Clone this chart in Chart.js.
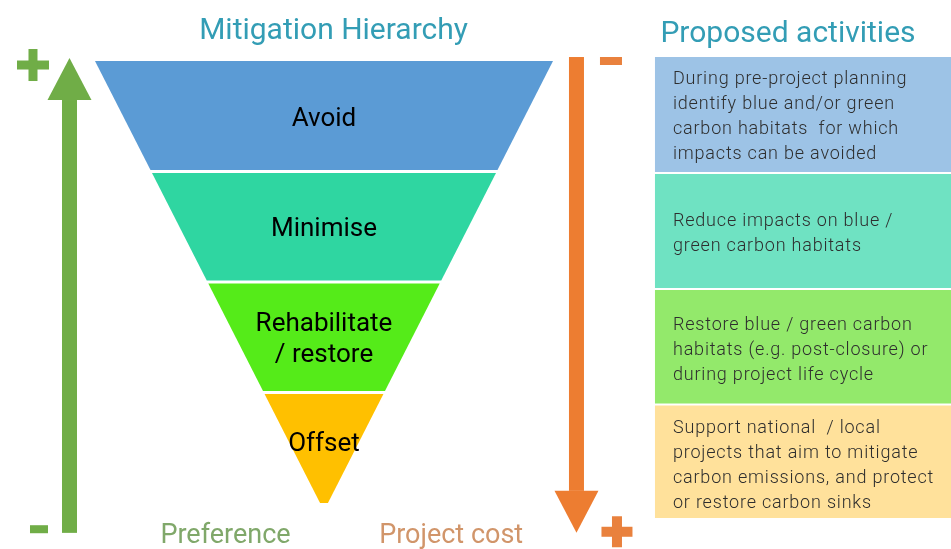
<!DOCTYPE html>
<html>
<head>
<meta charset="utf-8">
<script src="https://cdn.jsdelivr.net/npm/chart.js@4"></script>
<style>
  html, body { margin: 0; padding: 0; background: #fff; }
  #wrap { width: 951px; height: 549px; }
</style>
</head>
<body>
<div id="wrap"><canvas id="chart" width="951" height="549"></canvas></div>
<script>
// Funnel stages (top -> tip)
const stageNames = [['Avoid'], ['Minimise'], ['Rehabilitate', '/ restore'], ['Offset']];
const stageColors = ['#5b9bd5', '#2fd6a1', '#55eb19', '#ffc000'];
const stageLevels = [4, 3, 2, 1, 0];

// Right hand column
const activities = [
  ['During pre-project planning', 'identify blue and/or green', 'carbon habitats  for which', 'impacts can be avoided'],
  ['Reduce impacts on blue /', 'green carbon habitats'],
  ['Restore blue / green carbon', 'habitats (e.g. post-closure) or', 'during project life cycle'],
  ['Support national  / local', 'projects that aim to mitigate', 'carbon emissions, and protect', 'or restore carbon sinks']
];
const activityColors = ['#9dc3e6', '#6fe2c2', '#93e96b', '#ffe19b'];
const activityLevels = [4.036, 2.986, 1.937, 0.891, -0.136];

const titles = ['Mitigation Hierarchy', 'Proposed activities'];
const axisLabels = ['Preference', 'Project cost'];

// funnel geometry (x units)
const tipHalf = 0.07;
const stageGap = 0.027;
const boxGap = 0.018;
const boxLeft = 5.882;
const xMin = -5.758, xMax = 11.143;
const yMin = -0.416, yMax = 4.552;

function halfWidth(v) { return v + tipHalf; }

const datasets = [];
stageNames.forEach((name, i) => {
  const top = stageLevels[i] - (i > 0 ? stageGap / 2 : 0);
  const bot = stageLevels[i + 1] + (i < stageNames.length - 1 ? stageGap / 2 : 0);
  datasets.push({
    label: name.join(' '),
    data: [
      { x: -halfWidth(top), y: top }, { x: halfWidth(top), y: top },
      { x: halfWidth(bot), y: bot }, { x: -halfWidth(bot), y: bot },
      { x: -halfWidth(top), y: top }
    ],
    backgroundColor: stageColors[i],
    borderColor: stageColors[i],
    borderWidth: 0,
    fill: 'shape',
    showLine: true,
    pointRadius: 0,
    tension: 0
  });
});
activities.forEach((lines, i) => {
  const top = activityLevels[i] - (i > 0 ? boxGap / 2 : 0);
  const bot = activityLevels[i + 1] + (i < activities.length - 1 ? boxGap / 2 : 0);
  datasets.push({
    label: 'activity ' + i,
    data: [
      { x: boxLeft, y: top }, { x: xMax, y: top },
      { x: xMax, y: bot }, { x: boxLeft, y: bot },
      { x: boxLeft, y: top }
    ],
    backgroundColor: activityColors[i],
    borderColor: activityColors[i],
    borderWidth: 0,
    fill: 'shape',
    showLine: true,
    pointRadius: 0,
    tension: 0
  });
});

function drawArrow(ctx, x, yFrom, yTo, color) {
  // arrow pointing from yFrom to yTo
  const dir = yTo < yFrom ? -1 : 1;
  const shaft = 15, head = 44, headLen = 42;
  ctx.fillStyle = color;
  const yBase = yTo - dir * headLen;
  ctx.fillRect(x - shaft / 2, Math.min(yFrom, yBase), shaft, Math.abs(yBase - yFrom));
  ctx.beginPath();
  ctx.moveTo(x - head / 2, yBase);
  ctx.lineTo(x + head / 2, yBase);
  ctx.lineTo(x, yTo);
  ctx.closePath();
  ctx.fill();
}

function drawPlus(ctx, cx, cy, len, thick, color) {
  ctx.fillStyle = color;
  ctx.fillRect(cx - len / 2, cy - thick / 2, len, thick);
  ctx.fillRect(cx - thick / 2, cy - len / 2, thick, len);
}
function drawMinus(ctx, cx, cy, len, thick, color) {
  ctx.fillStyle = color;
  ctx.fillRect(cx - len / 2, cy - thick / 2, len, thick);
}

const labelsPlugin = {
  id: 'labels',
  afterDatasetsDraw(chart) {
    const ctx = chart.ctx;
    const xs = chart.scales.x, ys = chart.scales.y;
    ctx.save();
    ctx.textBaseline = 'middle';

    // stage names
    ctx.textAlign = 'center';
    ctx.fillStyle = '#000';
    ctx.font = '26px Roboto';
    stageNames.forEach((lines, i) => {
      const mid = (stageLevels[i] + stageLevels[i + 1]) / 2 + (i === 3 ? 0.06 : 0);
      const cy = ys.getPixelForValue(mid) + 3;
      const cx = xs.getPixelForValue(0);
      lines.forEach((t, j) => {
        ctx.fillText(t, cx, cy + (j - (lines.length - 1) / 2) * 31);
      });
    });

    // activity text
    ctx.textAlign = 'left';
    ctx.fillStyle = '#2e2e2e';
    ctx.font = '300 18px Roboto';
    ctx.letterSpacing = '0.8px';
    activities.forEach((lines, i) => {
      const mid = (activityLevels[i] + activityLevels[i + 1]) / 2;
      const cy = ys.getPixelForValue(mid) + 2 + i;
      const x0 = xs.getPixelForValue(boxLeft) + 18;
      lines.forEach((t, j) => {
        ctx.fillText(t, x0, cy + (j - (lines.length - 1) / 2) * 25);
      });
    });
    ctx.letterSpacing = '0px';

    // titles
    ctx.textAlign = 'center';
    ctx.fillStyle = '#339db5';
    ctx.font = '30px Roboto';
    ctx.fillText(titles[0], xs.getPixelForValue(0.17), ys.getPixelForValue(4.31) + 5);
    ctx.fillText(titles[1], (xs.getPixelForValue(boxLeft) + chart.chartArea.right) / 2 - 15, ys.getPixelForValue(4.275) + 4);

    // arrows
    const gx = xs.getPixelForValue(-4.523);
    const ox = xs.getPixelForValue(4.487);
    drawArrow(ctx, gx, ys.getPixelForValue(-0.27), ys.getPixelForValue(4.027), '#70ad47');
    drawArrow(ctx, ox, ys.getPixelForValue(4.036), ys.getPixelForValue(-0.27), '#ed7d31');
    drawPlus(ctx, gx - 36.5, ys.getPixelForValue(4.027) + 7, 32, 9, '#70ad47');
    drawMinus(ctx, gx - 30.5, ys.getPixelForValue(-0.237), 18, 8, '#70ad47');
    drawMinus(ctx, ox + 34.5, ys.getPixelForValue(4.0), 22, 8, '#e9813d');
    drawPlus(ctx, ox + 40.5, ys.getPixelForValue(-0.26), 31, 10, '#e9813d');

    // bottom labels
    ctx.font = '27px Roboto';
    ctx.fillStyle = '#80a86a';
    ctx.fillText(axisLabels[0], xs.getPixelForValue(-1.75), ys.getPixelForValue(-0.27) + 3);
    ctx.fillStyle = '#d1956a';
    ctx.fillText(axisLabels[1], xs.getPixelForValue(2.26), ys.getPixelForValue(-0.27) + 3);
    ctx.restore();
  }
};

new Chart(document.getElementById('chart'), {
  type: 'scatter',
  data: { datasets },
  options: {
    responsive: false,
    animation: false,
    layout: { padding: 0 },
    scales: {
      x: { type: 'linear', display: false, min: xMin, max: xMax },
      y: { type: 'linear', display: false, min: yMin, max: yMax }
    },
    plugins: {
      legend: { display: false },
      tooltip: { enabled: false }
    }
  },
  plugins: [labelsPlugin]
});
</script>
</body>
</html>
